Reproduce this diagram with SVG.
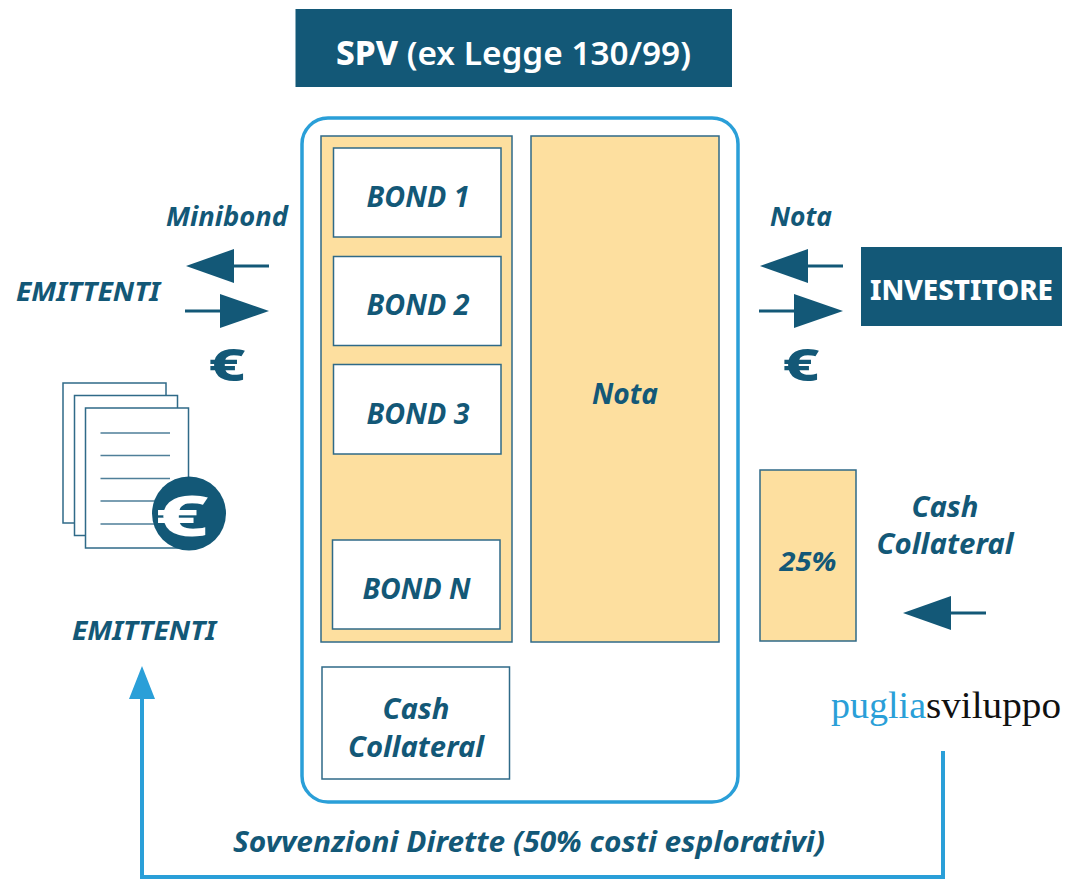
<svg xmlns="http://www.w3.org/2000/svg" width="1069" height="879" viewBox="0 0 1069 879">
<style>
.t{font-family:"Noto Sans","Open Sans","Liberation Sans",sans-serif;fill:#135877;font-weight:700;font-style:italic;text-anchor:middle}
.u{font-style:normal}
.box{fill:#fff;stroke:#2f6a88;stroke-width:1.5}
.peach{fill:#fddf9f;stroke:#2f6a88;stroke-width:1.5}
.doc{fill:#fff;stroke:#2f6a88;stroke-width:1.5}
.ln{stroke:#4f7f99;stroke-width:1.5;fill:none}
.shaft{stroke:#135877;stroke-width:3;fill:none}
.head{fill:#135877}
.blue{stroke:#2a9fd8;stroke-width:4;fill:none}
</style>
<g id="spv-title"><rect x="295.500" y="9" width="436.500" height="78" fill="#135877"/>
<text class="t u" x="513.500" y="65" font-size="33" style="fill:#fff;font-style:normal;font-weight:600" textLength="355" lengthAdjust="spacingAndGlyphs"><tspan font-weight="800">SPV</tspan> (ex Legge 130/99)</text></g>
<g id="spv"><rect x="302" y="118" width="436" height="684" rx="26" fill="#fff" stroke="#2a9fd8" stroke-width="3.500"/></g>
<g id="bond-column"><rect class="peach" x="321" y="136" width="191" height="506"/></g>
<g id="bond-1"><rect class="box" x="333.500" y="148" width="167.500" height="89"/><text class="t" x="418" y="207" font-size="28" textLength="103" lengthAdjust="spacingAndGlyphs">BOND 1</text></g>
<g id="bond-2"><rect class="box" x="333.500" y="256.500" width="167.500" height="89"/><text class="t" x="418" y="315" font-size="28" textLength="103" lengthAdjust="spacingAndGlyphs">BOND 2</text></g>
<g id="bond-3"><rect class="box" x="333.500" y="364.500" width="167.500" height="89.500"/><text class="t" x="418" y="424" font-size="28" textLength="103" lengthAdjust="spacingAndGlyphs">BOND 3</text></g>
<g id="bond-n"><rect class="box" x="332.500" y="540" width="167.500" height="89"/><text class="t" x="416.500" y="599" font-size="28" textLength="108" lengthAdjust="spacingAndGlyphs">BOND N</text></g>
<g id="nota"><rect class="peach" x="531" y="136" width="188" height="506"/><text class="t" x="625" y="404" font-size="29" textLength="66" lengthAdjust="spacingAndGlyphs">Nota</text></g>
<g id="cash-collateral"><rect class="box" x="322" y="667" width="187.500" height="112"/><text class="t" x="416" y="719" font-size="29" textLength="67" lengthAdjust="spacingAndGlyphs">Cash</text><text class="t" x="416" y="757" font-size="29" textLength="136" lengthAdjust="spacingAndGlyphs">Collateral</text></g>
<g id="collateral-25"><rect class="peach" x="760" y="470" width="96" height="171"/><text class="t" x="808" y="571" font-size="27" textLength="57" lengthAdjust="spacingAndGlyphs">25%</text></g>
<g id="investitore"><rect x="861" y="247" width="201" height="79" fill="#135877"/><text class="t u" x="961.500" y="300" font-size="29" style="fill:#fff;font-style:normal;font-weight:800" textLength="183" lengthAdjust="spacingAndGlyphs">INVESTITORE</text></g>
<g id="emittenti-docs">
<rect class="doc" x="63" y="383" width="103" height="140"/>
<rect class="doc" x="74.500" y="395.500" width="103" height="140"/>
<rect class="doc" x="85.500" y="408" width="103" height="140"/>
<path class="ln" d="M100.500 433H170M100.500 455.500H170M100.500 478.500H170M100.500 501H170M100.500 524H170"/>
<circle cx="189" cy="513.500" r="37" fill="#135877"/>
<text transform="translate(182 536) scale(1.65 1)" font-family="'Noto Sans','Open Sans',sans-serif" font-weight="800" font-size="56" text-anchor="middle" fill="#fff">€</text>
</g>
<g id="labels">
<text class="t" x="227" y="226" font-size="27" textLength="122" lengthAdjust="spacingAndGlyphs">Minibond</text>
<text class="t" x="88" y="301" font-size="27" textLength="144" lengthAdjust="spacingAndGlyphs">EMITTENTI</text>
<text class="t" x="801" y="226" font-size="27" textLength="62" lengthAdjust="spacingAndGlyphs">Nota</text>
<text class="t" x="945" y="517" font-size="29" textLength="67" lengthAdjust="spacingAndGlyphs">Cash</text>
<text class="t" x="945" y="554" font-size="29" textLength="137" lengthAdjust="spacingAndGlyphs">Collateral</text>
<text class="t" x="144" y="640" font-size="27" textLength="144" lengthAdjust="spacingAndGlyphs">EMITTENTI</text>
<text class="t" x="529" y="852" font-size="28" textLength="592" lengthAdjust="spacingAndGlyphs">Sovvenzioni Dirette (50% costi esplorativi)</text>
<text class="t u" transform="translate(227 381) scale(1.42 1)" font-size="45" style="font-style:normal;font-weight:800">€</text>
<text class="t u" transform="translate(801 381) scale(1.42 1)" font-size="45" style="font-style:normal;font-weight:800">€</text>
<text x="831" y="718" font-family="'Liberation Serif',serif" font-size="38" fill="#2a9fd8" textLength="95" lengthAdjust="spacingAndGlyphs">puglia</text>
<text x="926" y="718" font-family="'Liberation Serif',serif" font-size="38" fill="#111" textLength="135" lengthAdjust="spacingAndGlyphs">sviluppo</text>
</g>
<g id="connectors">
<path class="shaft" d="M269 266H230"/><path class="head" d="M186 266L234 249V283Z"/>
<path class="shaft" d="M185 311H224"/><path class="head" d="M269 311L220 294V328Z"/>
<path class="shaft" d="M843 266H805"/><path class="head" d="M760 266L808 249V283Z"/>
<path class="shaft" d="M759 311H798"/><path class="head" d="M843 311L794 294V328Z"/>
<path class="shaft" d="M986 613H948"/><path class="head" d="M903 613L951 596V630Z"/>
<path class="blue" d="M943 751V877H142V695"/><path d="M129 699L142 666L155 699Z" fill="#2a9fd8"/>
</g>
</svg>
